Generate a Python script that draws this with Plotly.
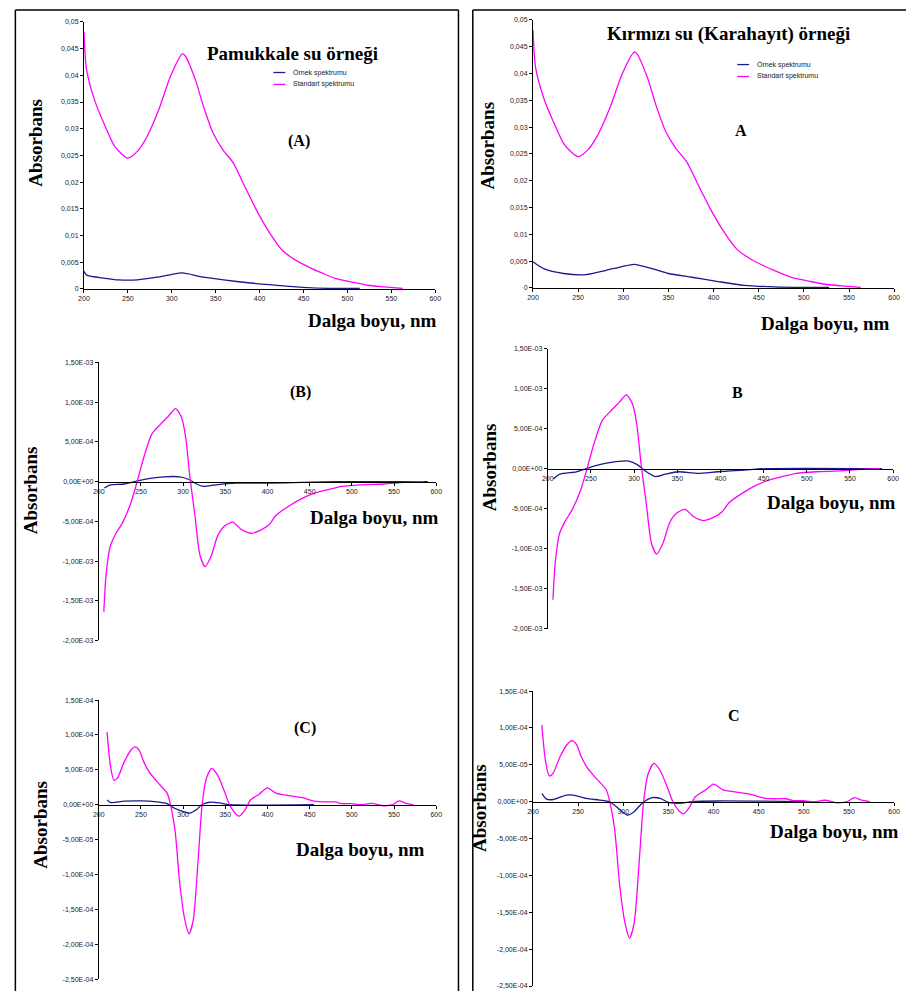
import plotly.graph_objects as go

W, H = 912, 994

# ---- spectra: wavelength (nm) and absorbance ----
# (A) absorption spectra
std_A_nm = [200, 203, 212, 224, 235, 250, 261, 272, 285, 299, 312, 315, 327, 336, 347,
            358, 370, 381, 396, 411, 426, 441, 456, 471, 486, 505, 523, 542, 563]
std_A = [0.0481, 0.0410, 0.0354, 0.0305, 0.0267, 0.0245, 0.0258, 0.0286, 0.0335, 0.0400,
         0.0440, 0.0437, 0.0391, 0.0342, 0.0292, 0.0261, 0.0236, 0.0199, 0.0149, 0.0106,
         0.0072, 0.0054, 0.0041, 0.0030, 0.0020, 0.0013, 0.0007, 0.0004, 0.0001]

pam_A_nm = [200, 203, 224, 239, 261, 283, 299, 312, 336, 374, 411, 449, 480, 514]
pam_A = [0.0033, 0.0026, 0.0020, 0.0017, 0.0017, 0.0022, 0.0027, 0.0030, 0.0022, 0.0014,
         0.0008, 0.0003, 0.0001, 0.0001]

kar_A_nm = [200, 212, 234, 259, 281, 299, 312, 332, 350, 376, 405, 434, 467, 500, 528]
kar_A = [0.0049, 0.0036, 0.0027, 0.0025, 0.0033, 0.0040, 0.0044, 0.0036, 0.0027, 0.0020,
         0.0012, 0.0005, 0.0002, 0.0001, 0.0001]

# (B) first derivative spectra
std_B_nm = [206, 208.6, 213.7, 220, 228, 238, 246, 253.5, 263, 273, 283, 291, 298, 303,
            308, 314, 320, 326, 333.5, 341, 349, 359, 368.6, 380, 390, 402, 409.6, 425,
            441, 456, 472, 488, 511, 538, 562, 585]
std_B = [-1.64e-3, -1.18e-3, -0.81e-3, -0.66e-3, -0.52e-3, -0.27e-3, 0.02e-3, 0.31e-3,
         0.60e-3, 0.72e-3, 0.83e-3, 0.92e-3, 0.81e-3, 0.56e-3, 0.06e-3, -0.43e-3,
         -0.93e-3, -1.07e-3, -0.93e-3, -0.68e-3, -0.56e-3, -0.51e-3, -0.60e-3, -0.65e-3,
         -0.62e-3, -0.54e-3, -0.43e-3, -0.31e-3, -0.21e-3, -0.145e-3, -0.10e-3, -0.06e-3,
         -0.04e-3, -0.03e-3, -0.01e-3, 0.0]

pam_B_nm = [206.6, 214, 230, 246, 261, 277, 296, 306, 316, 324, 339, 363, 402, 441, 480, 590]
pam_B = [-0.08e-3, -0.04e-3, -0.03e-3, 0.01e-3, 0.04e-3, 0.06e-3, 0.06e-3, 0.03e-3,
         -0.03e-3, -0.06e-3, -0.04e-3, -0.02e-3, -0.02e-3, -0.01e-3, 0.0, 0.0]

kar_B_nm = [206.5, 214, 233, 244.6, 260, 279, 294, 303.6, 313, 324.6, 336, 351, 374, 397,
            427, 454, 587]
kar_B = [-0.13e-3, -0.07e-3, -0.04e-3, 0.0, 0.05e-3, 0.086e-3, 0.094e-3, 0.05e-3,
         -0.03e-3, -0.10e-3, -0.07e-3, -0.04e-3, -0.06e-3, -0.04e-3, -0.02e-3, 0.0, 0.0]

# (C) second derivative spectra
std_C_nm = [209.8, 213.7, 218, 222, 230, 238, 243, 248, 253.5, 259.7, 269, 281, 285, 290.5,
            296, 302, 307, 312, 318, 322.5, 327.6, 334, 341, 349, 355, 363, 366.6, 372.5,
            380, 390, 400, 410, 425, 441, 456, 468, 480, 488, 499, 511, 523, 538, 548, 556,
            564, 573]
std_C = [1.04e-4, 0.57e-4, 0.35e-4, 0.38e-4, 0.61e-4, 0.78e-4, 0.83e-4, 0.78e-4, 0.61e-4,
         0.47e-4, 0.33e-4, 0.165e-4, 0.0, -0.38e-4, -1.13e-4, -1.65e-4, -1.85e-4, -1.65e-4,
         -0.75e-4, 0.0, 0.38e-4, 0.52e-4, 0.42e-4, 0.19e-4, 0.0, -0.14e-4, -0.165e-4,
         -0.09e-4, 0.07e-4, 0.15e-4, 0.24e-4, 0.165e-4, 0.13e-4, 0.10e-4, 0.05e-4, 0.04e-4,
         0.04e-4, 0.015e-4, 0.015e-4, 0.0, 0.02e-4, -0.015e-4, 0.0, 0.055e-4, 0.02e-4, 0.0]

pam_C_nm = [210, 214, 230, 250, 269, 281, 290.5, 300.5, 308, 316, 322, 331.5, 343, 355, 455]
pam_C = [0.07e-4, 0.03e-4, 0.05e-4, 0.055e-4, 0.04e-4, 0.015e-4, -0.055e-4, -0.10e-4,
         -0.12e-4, -0.07e-4, 0.0, 0.035e-4, 0.025e-4, 0.0, 0.0]

kar_C_nm = [210, 215, 222.6, 237, 244.5, 259, 273.7, 284.6, 295.5, 304.6, 312, 321, 332,
            341, 350, 365, 376, 405, 507]
kar_C = [0.11e-4, 0.036e-4, 0.03e-4, 0.09e-4, 0.09e-4, 0.045e-4, 0.022e-4, 0.0, -0.10e-4,
         -0.18e-4, -0.135e-4, -0.02e-4, 0.054e-4, 0.045e-4, -0.01e-4, -0.02e-4, 0.0,
         0.01e-4, 0.0]

# ---- tick labels ----
x_ticks = [200, 250, 300, 350, 400, 450, 500, 550, 600]
x_labels = ["200", "250", "300", "350", "400", "450", "500", "550", "600"]

yA_ticks = [0, 0.005, 0.01, 0.015, 0.02, 0.025, 0.03, 0.035, 0.04, 0.045, 0.05]
yA_labels = ["0", "0,005", "0,01", "0,015", "0,02", "0,025", "0,03", "0,035", "0,04",
             "0,045", "0,05"]
yB_ticks = [-2e-3, -1.5e-3, -1e-3, -5e-4, 0, 5e-4, 1e-3, 1.5e-3]
yB_labels = ["-2,00E-03", "-1,50E-03", "-1,00E-03", "-5,00E-04", "0,00E+00",
             "5,00E-04", "1,00E-03", "1,50E-03"]
yC_ticks = [-2.5e-4, -2e-4, -1.5e-4, -1e-4, -5e-5, 0, 5e-5, 1e-4, 1.5e-4]
yC_labels = ["-2,50E-04", "-2,00E-04", "-1,50E-04", "-1,00E-04", "-5,00E-05",
             "0,00E+00", "5,00E-05", "1,00E-04", "1,50E-04"]

SAMPLE_COLOR = "#1a1a8c"
STD_COLOR = "#ff00ff"
SERIF = "Liberation Serif"
SANS = "Liberation Sans"

fig = go.Figure()


def px_x(x):
    return x / W


def px_y(y):
    return 1 - y / H


# panel geometry in pixels: (x of 200 nm, x of 600 nm, top of y range, bottom of y range)
panels = [
    dict(geom=(79, 435, 18, 287), yr=(0, 0.05), yt=(yA_ticks, yA_labels),
         std=(std_A_nm, std_A), smp=(pam_A_nm, pam_A), bottom_axis=True),
    dict(geom=(534, 900, 16, 286), yr=(0, 0.05), yt=(yA_ticks, yA_labels),
         std=(std_A_nm, std_A), smp=(kar_A_nm, kar_A), bottom_axis=True),
    dict(geom=(94, 436, 361, 641), yr=(-2e-3, 1.5e-3), yt=(yB_ticks, yB_labels),
         std=(std_B_nm, std_B), smp=(pam_B_nm, pam_B), bottom_axis=False),
    dict(geom=(549, 899, 347, 629), yr=(-2e-3, 1.5e-3), yt=(yB_ticks, yB_labels),
         std=(std_B_nm, std_B), smp=(kar_B_nm, kar_B), bottom_axis=False),
    dict(geom=(94, 436, 701, 982), yr=(-2.5e-4, 1.5e-4), yt=(yC_ticks, yC_labels),
         std=(std_C_nm, std_C), smp=(pam_C_nm, pam_C), bottom_axis=False),
    dict(geom=(534, 900, 692, 989), yr=(-2.5e-4, 1.5e-4), yt=(yC_ticks, yC_labels),
         std=(std_C_nm, std_C), smp=(kar_C_nm, kar_C), bottom_axis=False),
]

tick_font = dict(family=SANS, size=7, color="#222")
layout_axes = {}
for i, p in enumerate(panels, start=1):
    x0, x1, yt_px, yb_px = p["geom"]
    xname = "xaxis" if i == 1 else f"xaxis{i}"
    yname = "yaxis" if i == 1 else f"yaxis{i}"
    xref = "x" if i == 1 else f"x{i}"
    yref = "y" if i == 1 else f"y{i}"
    ydom = [px_y(yb_px), px_y(yt_px)]
    ymin, ymax = p["yr"]

    xaxis = dict(domain=[px_x(x0), px_x(x1)], range=[200, 600], tickvals=x_ticks,
                 ticktext=x_labels, showline=True, linecolor="black", linewidth=1,
                 ticks="outside", ticklen=3, tickcolor="black", showgrid=False,
                 zeroline=False, tickfont=tick_font, fixedrange=True)
    if p["bottom_axis"]:
        xaxis["anchor"] = yref
    else:
        zero_pos = ydom[0] + (0 - ymin) / (ymax - ymin) * (ydom[1] - ydom[0])
        xaxis["anchor"] = "free"
        xaxis["position"] = zero_pos
    layout_axes[xname] = xaxis
    layout_axes[yname] = dict(domain=ydom, range=[ymin, ymax], anchor=xref,
                              tickvals=p["yt"][0], ticktext=p["yt"][1], showline=True,
                              linecolor="black", linewidth=1, ticks="outside", ticklen=3,
                              tickcolor="black", showgrid=False, zeroline=False,
                              tickfont=tick_font, fixedrange=True)

    for (xs, ys), col in [(p["smp"], SAMPLE_COLOR), (p["std"], STD_COLOR)]:
        fig.add_trace(go.Scatter(x=xs, y=ys, mode="lines", xaxis=xref, yaxis=yref,
                                 line=dict(color=col, width=1.3, shape="spline",
                                           smoothing=0.7),
                                 showlegend=False))

annotations = []
shapes = []


def text(x, y, s, size, family=SERIF, bold=True, xanchor="center", angle=0, color="black"):
    annotations.append(dict(x=px_x(x), y=px_y(y), xref="paper", yref="paper",
                            text=f"<b>{s}</b>" if bold else s, showarrow=False,
                            xanchor=xanchor, yanchor="middle", textangle=angle,
                            font=dict(family=family, size=size, color=color)))


def legend(x0, y0):
    for k, (label, col) in enumerate([("Örnek spektrumu", SAMPLE_COLOR),
                                       ("Standart spektrumu", STD_COLOR)]):
        y = y0 + 12 * k
        shapes.append(dict(type="line", xref="paper", yref="paper", x0=px_x(x0),
                           x1=px_x(x0 + 12), y0=px_y(y), y1=px_y(y),
                           line=dict(color=col, width=1.3)))
        text(x0 + 18, y, label, 7, family=SANS, bold=False, xanchor="left", color="#222")


# titles
text(290, 50, "Pamukkale su örneği", 19)
text(732, 30, "Kırmızı su (Karahayıt) örneği", 19)
legend(271, 69)
legend(741, 61)

# panel letters
text(297, 138, "(A)", 16)
text(745, 127, "A", 16)
text(298, 391, "(B)", 16)
text(741, 391, "B", 16)
text(303, 729, "(C)", 16)
text(738, 717, "C", 16)

# axis titles
for (x, y) in [(29, 140), (488, 143), (25, 490), (490, 467), (35, 827), (480, 810)]:
    text(x, y, "Absorbans", 19, angle=-90)
for (x, y) in [(371, 319), (830, 322), (373, 517), (836, 502), (359, 851), (839, 833)]:
    text(x, y, "Dalga boyu, nm", 19)

# outer frames
frame = dict(color="black", width=1.5)
for (xa, ya, xb, yb) in [(9.5, 6, 9.5, H), (9.5, 6, 458.5, 6), (458.5, 6, 458.5, H),
                         (473, 6, 473, H), (473, 6, W, 6)]:
    shapes.append(dict(type="line", xref="paper", yref="paper", x0=px_x(xa), y0=px_y(ya),
                       x1=px_x(xb), y1=px_y(yb), line=frame))

fig.update_layout(width=W, height=H, autosize=False,
                  margin=dict(l=0, r=0, t=0, b=0, pad=0),
                  paper_bgcolor="white", plot_bgcolor="rgba(0,0,0,0)",
                  showlegend=False, annotations=annotations, shapes=shapes,
                  **layout_axes)

fig.write_html("out.html", config={"displayModeBar": False})
